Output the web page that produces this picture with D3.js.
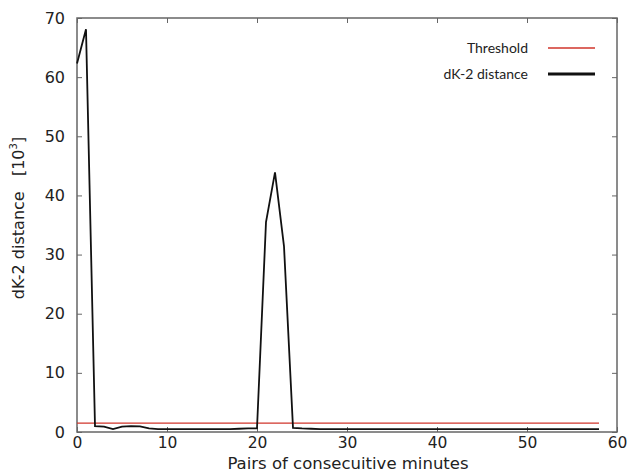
<!DOCTYPE html>
<html><head><meta charset="utf-8">
<script src="https://cdn.jsdelivr.net/npm/d3@7"></script>
<style>body{margin:0;background:#fff}svg{display:block}</style>
</head><body>
<svg id="c" width="627" height="472"></svg>
<script>
const minutes = d3.range(0, 59);
const dk2 = [62.3, 68.1, 1.0, 0.9, 0.5, 0.9, 1.0, 0.95, 0.6, 0.5,
  0.5, 0.5, 0.5, 0.5, 0.5, 0.5, 0.5, 0.5, 0.55, 0.6,
  0.6, 35.5, 43.9, 31.4, 0.7, 0.6, 0.55, 0.5, 0.5, 0.5,
  0.5, 0.5, 0.5, 0.5, 0.5, 0.5, 0.5, 0.5, 0.5, 0.5,
  0.5, 0.5, 0.5, 0.5, 0.5, 0.5, 0.5, 0.5, 0.5, 0.5,
  0.5, 0.5, 0.5, 0.5, 0.5, 0.5, 0.5, 0.5, 0.5];
const threshold = [1.5, 1.5];
const thresholdX = [0, 58];
const xTicks = [0, 10, 20, 30, 40, 50, 60];
const yTicks = [0, 10, 20, 30, 40, 50, 60, 70];
const legendLabels = ["Threshold", "dK-2 distance"];

const svg = d3.select("#c");
const L = 77, R = 617, T = 18, B = 432;
const x = d3.scaleLinear().domain([0, 60]).range([L, R]);
const y = d3.scaleLinear().domain([0, 70]).range([B, T]);
const font = "DejaVu Sans, sans-serif";
const frameCol = "#666";

// frame
svg.append("rect").attr("x", L).attr("y", T).attr("width", R - L).attr("height", B - T)
  .attr("fill", "none").attr("stroke", frameCol).attr("stroke-width", 1.5);

// axes
const xa = svg.append("g").attr("transform", `translate(0,${B})`)
  .call(d3.axisBottom(x).tickValues(xTicks).tickSize(-5).tickPadding(5).tickFormat(d3.format("d")));
const xt = svg.append("g").attr("transform", `translate(0,${T})`)
  .call(d3.axisTop(x).tickValues(xTicks).tickSize(-5).tickFormat(""));
const ya = svg.append("g").attr("transform", `translate(${L},0)`)
  .call(d3.axisLeft(y).tickValues(yTicks).tickSize(-5).tickPadding(12).tickFormat(d3.format("d")));
const yr = svg.append("g").attr("transform", `translate(${R},0)`)
  .call(d3.axisRight(y).tickValues(yTicks).tickSize(-5).tickFormat(""));
[xa, xt, ya, yr].forEach(g => {
  g.select(".domain").remove();
  g.selectAll(".tick line").attr("stroke", frameCol);
  g.selectAll("text").attr("font-family", font).attr("font-size", 16).attr("fill", "#222");
});
xa.selectAll("text").attr("font-size", 15.5).attr("dy", "0.71em");

// threshold
svg.append("path")
  .datum(thresholdX.map((d, i) => [d, threshold[i]]))
  .attr("d", d3.line().x(d => x(d[0])).y(d => y(d[1])))
  .attr("stroke", "#d0352b").attr("stroke-width", 1.3).attr("fill", "none");

// series
svg.append("path")
  .datum(minutes.map((m, i) => [m, dk2[i]]))
  .attr("d", d3.line().x(d => x(d[0])).y(d => y(d[1])))
  .attr("stroke", "#111").attr("stroke-width", 1.8).attr("fill", "none")
  .attr("stroke-linejoin", "miter");

// labels
svg.append("text").attr("x", 348).attr("y", 469).attr("text-anchor", "middle")
  .attr("font-family", font).attr("font-size", 16.5).attr("fill", "#222")
  .text("Pairs of consecuitive minutes");
const yl = svg.append("text").attr("transform", `translate(24,218) rotate(-90)`)
  .attr("text-anchor", "middle").attr("font-family", font).attr("font-size", 16).attr("fill", "#222")
  .attr("xml:space", "preserve");
yl.append("tspan").text("dK-2 distance   [10");
yl.append("tspan").attr("font-size", 10).attr("dy", -7).text("3");
yl.append("tspan").attr("dy", 7).text("]");

// legend
const lg = svg.append("g");
const lCols = ["#d0352b", "#111"], lW = [1.5, 3];
legendLabels.forEach((t, i) => {
  const yy = 48 + i * 26;
  lg.append("text").attr("x", 528).attr("y", yy).attr("dy", "0.35em").attr("text-anchor", "end")
    .attr("font-family", "Lato, sans-serif").attr("font-size", 14).attr("fill", "#222").text(t);
  lg.append("line").attr("x1", 548).attr("x2", 595).attr("y1", yy).attr("y2", yy)
    .attr("stroke", lCols[i]).attr("stroke-width", lW[i]);
});
</script>
</body></html>
